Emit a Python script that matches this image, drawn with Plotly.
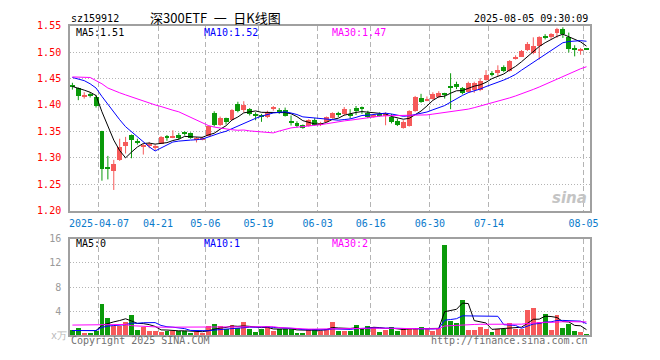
import plotly.graph_objects as go
import pandas as pd

# ---------------- data ----------------
open_ = [1.438, 1.432, 1.417, 1.422, 1.416, 1.351, 1.281, 1.275, 1.296, 1.322,
         1.343, 1.330, 1.321, 1.323, 1.319, 1.327, 1.339, 1.339, 1.344, 1.347,
         1.347, 1.335, 1.336, 1.341, 1.386, 1.363, 1.375, 1.372, 1.403, 1.391,
         1.392, 1.383, 1.379, 1.377, 1.394, 1.391, 1.391, 1.369, 1.366, 1.362,
         1.360, 1.372, 1.363, 1.369, 1.376, 1.384, 1.383, 1.384, 1.395, 1.394,
         1.386, 1.379, 1.384, 1.381, 1.377, 1.371, 1.357, 1.360, 1.389, 1.413,
         1.409, 1.412, 1.415, 1.422, 1.436, 1.441, 1.432, 1.425, 1.429, 1.429,
         1.448, 1.460, 1.461, 1.473, 1.464, 1.487, 1.492, 1.504, 1.498, 1.513,
         1.529, 1.529, 1.536, 1.544, 1.530, 1.506, 1.502, 1.506]
high = [1.442, 1.433, 1.424, 1.424, 1.419, 1.351, 1.3035, 1.296, 1.336, 1.3395,
        1.344, 1.336, 1.326, 1.330, 1.325, 1.341, 1.343, 1.352, 1.347, 1.350,
        1.348, 1.339, 1.340, 1.361, 1.388, 1.378, 1.376, 1.392, 1.406, 1.407,
        1.394, 1.386, 1.383, 1.389, 1.398, 1.394, 1.395, 1.380, 1.369, 1.363,
        1.373, 1.375, 1.368, 1.378, 1.386, 1.387, 1.396, 1.392, 1.398, 1.397,
        1.389, 1.382, 1.386, 1.386, 1.383, 1.374, 1.371, 1.390, 1.417, 1.421,
        1.416, 1.424, 1.426, 1.423, 1.460, 1.444, 1.434, 1.444, 1.444, 1.451,
        1.466, 1.464, 1.475, 1.475, 1.485, 1.494, 1.504, 1.519, 1.528, 1.530,
        1.534, 1.536, 1.546, 1.547, 1.537, 1.513, 1.508, 1.506]
low = [1.429, 1.409, 1.412, 1.414, 1.395, 1.2565, 1.259, 1.239, 1.294, 1.308,
       1.299, 1.325, 1.306, 1.318, 1.314, 1.326, 1.332, 1.337, 1.334, 1.342,
       1.336, 1.329, 1.333, 1.340, 1.359, 1.360, 1.363, 1.371, 1.386, 1.386,
       1.380, 1.371, 1.368, 1.375, 1.389, 1.383, 1.378, 1.361, 1.357, 1.355,
       1.359, 1.361, 1.360, 1.367, 1.374, 1.377, 1.380, 1.374, 1.381, 1.383,
       1.375, 1.376, 1.378, 1.3615, 1.365, 1.360, 1.355, 1.359, 1.387, 1.404,
       1.407, 1.410, 1.413, 1.412, 1.392, 1.430, 1.420, 1.423, 1.423, 1.426,
       1.446, 1.454, 1.454, 1.462, 1.463, 1.486, 1.491, 1.502, 1.496, 1.486,
       1.524, 1.525, 1.527, 1.527, 1.4994, 1.492, 1.495, 1.505]
close = [1.434, 1.418, 1.419, 1.419, 1.399, 1.280, 1.280, 1.289, 1.320, 1.330,
         1.334, 1.329, 1.322, 1.324, 1.320, 1.339, 1.338, 1.342, 1.337, 1.346,
         1.337, 1.336, 1.337, 1.360, 1.362, 1.375, 1.369, 1.391, 1.389, 1.401,
         1.383, 1.379, 1.378, 1.388, 1.395, 1.386, 1.380, 1.368, 1.360, 1.357,
         1.372, 1.363, 1.366, 1.377, 1.385, 1.383, 1.392, 1.380, 1.389, 1.393,
         1.378, 1.380, 1.381, 1.383, 1.369, 1.363, 1.369, 1.389, 1.415, 1.406,
         1.411, 1.422, 1.423, 1.421, 1.434, 1.434, 1.424, 1.443, 1.443, 1.446,
         1.458, 1.459, 1.466, 1.464, 1.484, 1.492, 1.5025, 1.5165, 1.513, 1.529,
         1.528, 1.534, 1.545, 1.534, 1.506, 1.505, 1.507, 1.505]
volume = [0.9, 1.28, 0.48, 0.48, 0.8, 5.28, 2.99, 1.6, 1.6, 2.24,
          3.47, 0.96, 1.44, 0.75, 0.75, 0.59, 0.85, 0.85, 0.7, 0.75,
          0.48, 0.59, 0.48, 1.55, 1.87, 1.55, 1.07, 1.7, 1.28, 2.19,
          1.17, 0.59, 1.17, 1.55, 0.8, 1.07, 1.07, 1.07, 0.48, 0.48,
          1.17, 1.17, 0.8, 1.17, 2.19, 0.75, 0.75, 0.85, 1.7, 1.12,
          1.55, 1.44, 0.59, 1.01, 1.39, 0.75, 1.07, 1.17, 1.17, 1.39,
          1.17, 0.75, 1.28, 14.99, 2.45, 2.08, 5.87, 0.9, 0.9, 1.39,
          1.17, 0.59, 1.17, 1.17, 2.08, 1.17, 1.17, 4.27, 4.59, 2.19,
          3.63, 0.9, 3.47, 1.23, 1.87, 0.75, 0.59, 0.27]

# moving-average values at the start of the window (history before the first candle)
ma5_head = [1.435, 1.432, 1.428, 1.424]
ma10_head = [1.452, 1.449, 1.446, 1.440, 1.432, 1.416, 1.401, 1.386, 1.372]
ma30_head = [1.453, 1.453, 1.453, 1.452, 1.446, 1.440, 1.432, 1.427, 1.423, 1.419,
             1.415, 1.412, 1.408, 1.404, 1.400, 1.397, 1.393, 1.390, 1.387, 1.382,
             1.377, 1.372, 1.366, 1.361, 1.358, 1.356, 1.354, 1.353, 1.352]
vma5_head = [0.8, 0.8, 0.8, 0.8]
vma10_head = [0.8, 0.8, 0.8, 0.8, 0.79, 1.32, 1.54, 1.62, 1.70]
vma30_head = [1.7, 1.7, 1.7, 1.7, 1.7, 1.8, 1.8, 1.8, 1.8, 1.8,
              1.6, 1.55, 1.5, 1.35, 1.35, 1.35, 1.35, 1.35, 1.35, 1.35,
              1.35, 1.35, 1.35, 1.35, 1.35, 1.35, 1.35, 1.35, 1.35]

tick_idx = [5, 15, 23, 32, 42, 51, 61, 71, 87]
tick_text = ["2025-04-07", "04-21", "05-06", "05-19", "06-03", "06-16", "06-30", "07-14", "08-05"]
price_ticks = [1.20, 1.25, 1.30, 1.35, 1.40, 1.45, 1.50, 1.55]
vol_ticks = [4, 8, 12, 16]

code = "sz159912"
title = "深300ETF\u2002一\u2002日K线图"
stamp = "2025-08-05 09:30:09"

# ---------------- derived ----------------
n = len(close)
idx = list(range(n))


def moving_avg(values, w, head):
    s = pd.Series(values).rolling(w).mean().tolist()
    return head + s[len(head):]


ma5 = moving_avg(close, 5, ma5_head)
ma10 = moving_avg(close, 10, ma10_head)
ma30 = moving_avg(close, 30, ma30_head)
vma5 = moving_avg(volume, 5, vma5_head)
vma10 = moving_avg(volume, 10, vma10_head)
vma30 = moving_avg(volume, 30, vma30_head)

RED = "#f65a5a"
GREEN = "#0a9a0a"
up = [c >= o for o, c in zip(open_, close)]
colors = [RED if u else GREEN for u in up]
body_base = [min(o, c) for o, c in zip(open_, close)]
body_h = [max(abs(c - o), 0.0019) for o, c in zip(open_, close)]

W, H = 660, 360
XL, XR = 70, 598
PT, PB = 20.4, 211.6
VT, VB = 240.7, 340.7


def py(y):
    return 1 - y / H


fig = go.Figure()

# wicks
for col, flag in ((RED, True), (GREEN, False)):
    xs, ys = [], []
    for i in idx:
        if up[i] == flag:
            xs += [i, i, None]
            ys += [low[i], high[i], None]
    fig.add_trace(go.Scatter(x=xs, y=ys, mode="lines", line=dict(color=col, width=1),
                             xaxis="x", yaxis="y", hoverinfo="skip"))

# bodies
fig.add_trace(go.Bar(x=idx, y=body_h, base=body_base, width=0.84,
                     marker=dict(color=colors, line=dict(width=0)),
                     xaxis="x", yaxis="y"))

# price MAs
for vals, col in ((ma5, "black"), (ma10, "#0000ff"), (ma30, "#ff00ff")):
    fig.add_trace(go.Scatter(x=idx, y=vals, mode="lines", line=dict(color=col, width=1),
                             xaxis="x", yaxis="y"))

# volume
fig.add_trace(go.Bar(x=idx, y=volume, width=0.84,
                     marker=dict(color=colors, line=dict(width=0)),
                     xaxis="x2", yaxis="y2"))
for vals, col in ((vma5, "black"), (vma10, "#0000ff"), (vma30, "#ff00ff")):
    fig.add_trace(go.Scatter(x=idx, y=vals, mode="lines", line=dict(color=col, width=1),
                             xaxis="x2", yaxis="y2"))

MONO = "DejaVu Sans Mono"
GRID = "#b4b4b4"
BORDER = "#a0a0a0"
xr = [-0.4167, n - 1 + 0.5833]
grid_x = [t - 0.5 for t in tick_idx]

common_x = dict(range=xr, domain=[XL / W, XR / W], showgrid=True, gridcolor=GRID,
                griddash="5px,3px", gridwidth=1, zeroline=False, showline=True,
                mirror=True, linecolor=BORDER, linewidth=1.5, ticks="",
                tickvals=grid_x, fixedrange=True)

fig.update_layout(
    width=W, height=H, margin=dict(l=0, r=0, t=0, b=0),
    paper_bgcolor="white", plot_bgcolor="white", showlegend=False,
    barmode="overlay", bargap=0,
    xaxis=dict(**common_x, anchor="y", ticktext=tick_text, ticklabelstandoff=3,
               tickfont=dict(family=MONO, size=10, color="#0a7acb")),
    yaxis=dict(domain=[py(PB), py(PT)], range=[1.20, 1.55], tickvals=price_ticks,
               ticktext=["%.2f" % v for v in price_ticks],
               tickfont=dict(family=MONO, size=10, color="#ff0000"),
               showgrid=True, gridcolor=GRID, griddash="1px,2px", zeroline=False,
               showline=True, mirror=True, linecolor=BORDER, linewidth=1.5,
               ticks="", ticklabelstandoff=5, anchor="x", fixedrange=True),
    xaxis2=dict(**common_x, anchor="y2", showticklabels=False),
    yaxis2=dict(domain=[py(VB), py(VT)], range=[0, 16], tickvals=vol_ticks,
                tickfont=dict(family=MONO, size=10, color="#9a9a9a"),
                showgrid=True, gridcolor=GRID, griddash="1px,2px", zeroline=False,
                showline=True, mirror=True, linecolor=BORDER, linewidth=1.5,
                ticks="", ticklabelstandoff=5, anchor="x2", fixedrange=True),
)


def label(text, x, y, color="black", size=10, anchor="left", family=MONO, **kw):
    fig.add_annotation(text=text, x=x / W, y=py(y), xref="paper", yref="paper",
                       xanchor=anchor, yanchor="middle", showarrow=False,
                       font=dict(family=family, size=size, color=color), **kw)


label(code, 69, 13)
label(title, 149, 12, size=13, family="Noto Sans CJK SC")
label(stamp, 598, 13, anchor="right")

label("MA5:%.2f" % ma5[-1], 74, 27)
label("MA10:%.2f" % ma10[-1], 204, 27, color="#0000ff")
label("MA30:%.2f" % ma30[-1], 334, 27, color="#ff00ff")

label("MA5:%d" % int(vma5[-1]), 74, 246)
label("MA10:%d" % int(vma10[-1]), 204, 246, color="#0000ff")
label("MA30:%d" % int(vma30[-1]), 334, 246, color="#ff00ff")

label("Copyright 2025 SINA.COM", 69, 346, color="#707070")
label("http://finance.sina.com.cn", 598, 346, color="#707070", anchor="right")
label("x万", 49, 341, color="#b8b8b8", size=10)
label("<i><b>sina</b></i>", 597, 199, color="#c4c4c4", size=15, anchor="right",
      family="DejaVu Sans")

fig.write_html("out.html")
